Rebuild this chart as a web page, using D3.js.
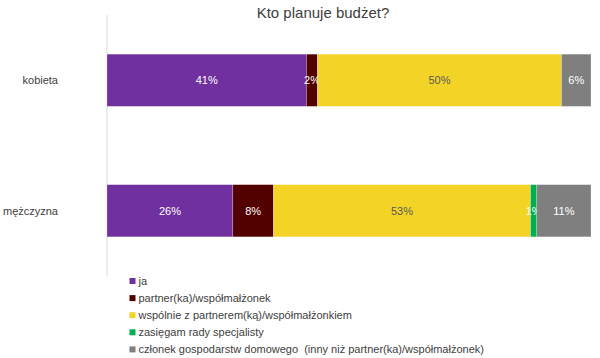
<!DOCTYPE html>
<html>
<head>
<meta charset="utf-8">
<script src="https://cdn.jsdelivr.net/npm/d3@7"></script>
<style>
  body { margin: 0; background: #fff; }
  text { font-family: "Liberation Sans", Arial, sans-serif; }
</style>
</head>
<body>
<div class="chart"></div>
<script>
var width = 600, height = 358;
var margin = {top: 15, right: 9, bottom: 82, left: 107};

var categories = ["kobieta", "mężczyzna"];
var seriesNames = [
  "ja",
  "partner(ka)/współmałżonek",
  "wspólnie z partnerem(ką)/współmałżonkiem",
  "zasięgam rady specjalisty",
  "członek gospodarstw domowego  (inny niż partner(ka)/współmałżonek)"
];
var colors = ["#7030a0", "#520000", "#f4d327", "#00b050", "#7f7f7f"];
var labelColors = ["#ffffff", "#ffffff", "#595959", "#ffffff", "#ffffff"];
// percentages per series: [kobieta, mężczyzna]
var ja = [41.2, 26.0];
var partner = [2.3, 8.4];
var wspolnie = [50.4, 53.1];
var specjalista = [0, 1.3];
var czlonek = [6.1, 11.2];
var series = [ja, partner, wspolnie, specjalista, czlonek];

var svg = d3.select(".chart").append("svg")
  .attr("width", width)
  .attr("height", height);

svg.append("text")
  .attr("x", 323).attr("y", 18)
  .attr("text-anchor", "middle")
  .style("font-size", "15px")
  .style("fill", "#404040")
  .text("Kto planuje budżet?");

var y = d3.scaleBand()
  .domain(categories)
  .range([margin.top, height - margin.bottom])
  .paddingInner(0.6)
  .paddingOuter(0.3);

var x = d3.scaleLinear()
  .domain([0, 100])
  .range([margin.left, width - margin.right]);

// axis line
svg.append("line")
  .attr("x1", margin.left).attr("x2", margin.left)
  .attr("y1", margin.top).attr("y2", height - margin.bottom)
  .style("stroke", "#d9d9d9");

svg.selectAll(".cat")
  .data(categories)
  .enter().append("text")
  .attr("class", "cat")
  .attr("x", 58)
  .attr("y", function(d) { return y(d) + y.bandwidth() / 2 + 4; })
  .attr("text-anchor", "end")
  .style("font-size", "11px")
  .style("fill", "#404040")
  .text(function(d) { return d; });

categories.forEach(function(cat, ci) {
  var acc = 0;
  series.forEach(function(vals, si) {
    var v = vals[ci];
    var x0 = acc;
    acc += v;
    if (v <= 0) return;
    svg.append("rect")
      .attr("x", x(x0))
      .attr("y", y(cat))
      .attr("width", x(acc) - x(x0))
      .attr("height", y.bandwidth())
      .style("fill", colors[si])
      .style("stroke", "#ffffff")
      .style("stroke-opacity", 0.4)
      .style("stroke-width", 0.6);
    svg.append("text")
      .attr("x", (x(x0) + x(acc)) / 2)
      .attr("y", y(cat) + y.bandwidth() / 2 + 4)
      .attr("text-anchor", "middle")
      .style("font-size", "11px")
      .style("fill", labelColors[si])
      .text(Math.round(v) + "%");
  });
});

var legend = svg.selectAll(".legend")
  .data(seriesNames)
  .enter().append("g")
  .attr("class", "legend")
  .attr("transform", function(d, i) { return "translate(129.5," + (281 + i * 17.1) + ")"; });

legend.append("rect")
  .attr("x", 0).attr("y", -3)
  .attr("width", 6).attr("height", 6)
  .style("fill", function(d, i) { return colors[i]; });

legend.append("text")
  .attr("x", 9).attr("y", 4)
  .style("font-size", "11px")
  .style("fill", "#404040")
  .style("white-space", "pre")
  .text(function(d) { return d; });
</script>
</body>
</html>
